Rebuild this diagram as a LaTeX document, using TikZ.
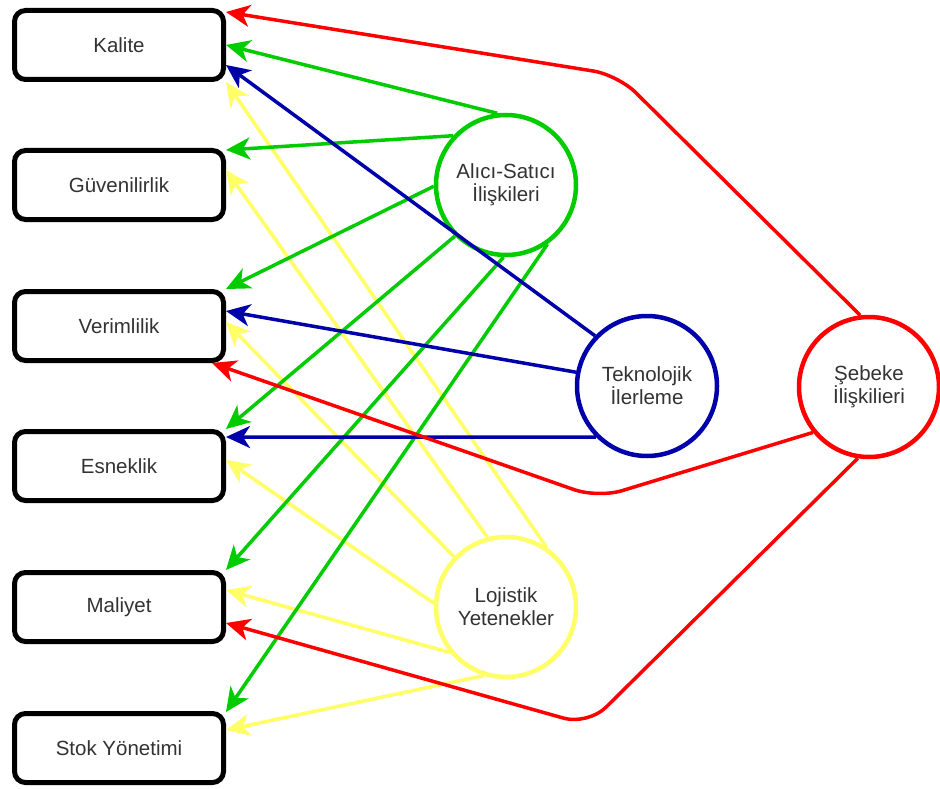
\documentclass[tikz,border=0pt]{standalone}
\usepackage{fontspec}
\setmainfont{Liberation Sans}
\usetikzlibrary{arrows.meta}
\definecolor{cred}{HTML}{FF0000}
\definecolor{cgreen}{HTML}{00CC00}
\definecolor{cblue}{HTML}{0000AA}
\definecolor{cyellow}{HTML}{FFFF66}
\definecolor{ctext}{HTML}{333333}
\begin{document}
\begin{tikzpicture}[x=1pt,y=-1pt,
 box/.style={draw=black, line width=5pt, rounded corners=11pt, fill=white, minimum width=209pt, minimum height=69pt, text=ctext, font=\fontsize{20.5}{23}\selectfont, inner sep=0pt},
 circ/.style={circle, line width=4.5pt, fill=white, minimum size=140pt, inner sep=0pt, text=ctext, align=center, font=\fontsize{20.5}{23}\selectfont},
 conn/.style={line width=3.5pt, -{Stealth[length=24pt,width=22pt,inset=7pt]}},
]
\useasboundingbox (0,0) rectangle (940,789);
\fill[white] (0,0) rectangle (940,789);

\node[box] (kal) at (119,45) {Kalite};
\node[box] (guv) at (119,185) {Güvenilirlik};
\node[box] (ver) at (119,326) {Verimlilik};
\node[box] (esn) at (119,466) {Esneklik};
\node[box] (mal) at (119,607) {Maliyet};
\node[box] (stk) at (119,748) {Stok Yönetimi};

\node[circ, draw=cgreen] (as) at (506,185) {Alıcı-Satıcı\\İlişkileri};
\node[circ, draw=cblue] (ti) at (647,386) {Teknolojik\\İlerleme};
\node[circ, draw=cyellow] (ly) at (506,607) {Lojistik\\Yetenekler};
\node[circ, draw=cred] (si) at (869,387) {Şebeke\\İlişkilieri};

% yellow
\draw[conn, cyellow] (ly.56) -- ([yshift=-37pt]kal.east);
\draw[conn, cyellow] (ly.105) -- ([yshift=15pt]guv.east);
\draw[conn, cyellow] (ly.136) -- ([yshift=4pt]ver.east);
\draw[conn, cyellow] (ly.177) -- ([yshift=6pt]esn.east);
\draw[conn, cyellow] (ly.219) -- ([yshift=17pt]mal.east);
\draw[conn, cyellow] (ly.252) -- ([yshift=18pt]stk.east);

% green
\draw[conn, cgreen] (as.97) -- (kal.east);
\draw[conn, cgreen] (as.137) -- ([yshift=35pt]guv.east);
\draw[conn, cgreen] (as.181) -- ([yshift=37pt]ver.east);
\draw[conn, cgreen] (as.225) -- ([yshift=37pt]esn.east);
\draw[conn, cgreen] (as.268) -- ([yshift=37pt]mal.east);
\draw[conn, cgreen] (as.305) -- ([yshift=36pt]stk.east);

% blue
\draw[conn, cblue] (ti.136) -- ([yshift=-20pt]kal.east);
\draw[conn, cblue] (ti.169) -- ([yshift=15pt]ver.east);
\draw[conn, cblue] (ti.225) -- ([yshift=29pt]esn.east);

% red
\coordinate (r1) at (618,75);
\coordinate (r2) at (598,498);
\coordinate (r3) at (588,725);
\draw[conn, cred, rounded corners=25pt] (si.97) -- (r1) -- ([yshift=33pt]kal.east);
\draw[conn, cred, rounded corners=25pt] (si.219) -- (r2) -- ([xshift=-14pt]ver.south east);
\draw[conn, cred, rounded corners=25pt] (si.261) -- (r3) -- ([yshift=-16pt]mal.east);
\end{tikzpicture}
\end{document}
